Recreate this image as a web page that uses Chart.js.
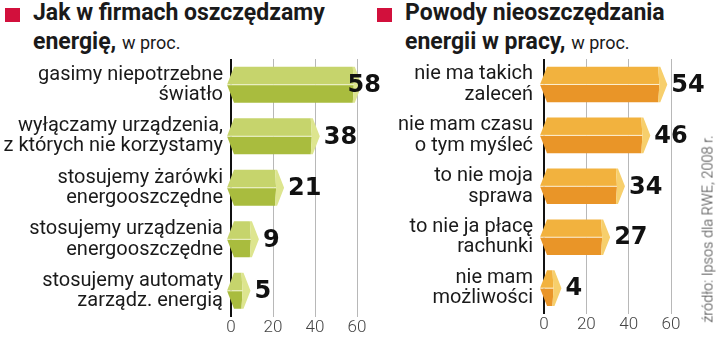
<!DOCTYPE html>
<html>
<head>
<meta charset="utf-8">
<script src="https://cdn.jsdelivr.net/npm/chart.js@4"></script>
<style>
  body { margin: 0; width: 720px; height: 345px; background: #fff; position: relative; overflow: hidden; font-family: Roboto, sans-serif; }
  .sq { position: absolute; width: 15px; height: 14px; background: #d2103c; }
  .title { position: absolute; font-weight: bold; font-size: 23px; line-height: 29px; color: #1a1a1a; white-space: nowrap; }
  .title span { font-weight: normal; font-size: 18px; }
  #wrapL { position: absolute; left: 0; top: 0; width: 382px; height: 345px; }
  #wrapR { position: absolute; left: 360px; top: 0; width: 345px; height: 345px; }
  .src { position: absolute; left: 708px; top: 229px; transform: translate(-50%, -50%) rotate(-90deg); font-size: 14.5px; font-weight: 300; color: #444; white-space: nowrap; }
</style>
</head>
<body>
<div class="sq" style="left:5px; top:8px;"></div>
<div class="title" style="left:33px; top:-2px;">Jak w firmach oszczędzamy<br>energię, <span>w proc.</span></div>
<div class="sq" style="left:377px; top:8px;"></div>
<div class="title" style="left:405px; top:-2px;">Powody nieoszczędzania<br>energii w pracy, <span>w proc.</span></div>
<div id="wrapL"><canvas id="chartL"></canvas></div>
<div id="wrapR"><canvas id="chartR"></canvas></div>
<div class="src">źródło: Ipsos dla RWE, 2008 r.</div>
<script>
// Data
const savingLabels = [
  ['gasimy niepotrzebne', 'światło'],
  ['wyłączamy urządzenia,', 'z których nie korzystamy'],
  ['stosujemy żarówki', 'energooszczędne'],
  ['stosujemy urządzenia', 'energooszczędne'],
  ['stosujemy automaty', 'zarządz. energią']
];
const savingValues = [58, 38, 21, 9, 5];

const reasonLabels = [
  ['nie ma takich', 'zaleceń'],
  ['nie mam czasu', 'o tym myśleć'],
  ['to nie moja', 'sprawa'],
  ['to nie ja płacę', 'rachunki'],
  ['nie mam', 'możliwości']
];
const reasonValues = [54, 46, 34, 27, 4];

const axisTicks = [0, 20, 40, 60];

const green = { top: '#c6d46c', bottom: '#a9bc3e', cap: '#dde58f' };
const orange = { top: '#f2b23e', bottom: '#e99528', cap: '#f7cf6c' };

// draws the prism-like bars and the value labels
const prismBars = {
  id: 'prismBars',
  afterDatasetsDraw(chart, args, opts) {
    const ctx = chart.ctx;
    const meta = chart.getDatasetMeta(0);
    const values = chart.data.datasets[0].data;
    ctx.save();
    meta.data.forEach((el, i) => {
      const p = el.getProps(['x', 'y', 'base', 'height'], true);
      const top = p.y - p.height / 2;
      const bot = p.y + p.height / 2;
      const mid = p.y;
      const b = p.base;
      const xv = p.x;

      // upper face
      ctx.fillStyle = opts.colors.top;
      ctx.beginPath();
      ctx.moveTo(b + 2, top);
      ctx.lineTo(xv, top);
      ctx.lineTo(xv + 1, mid);
      ctx.lineTo(b - 5, mid);
      ctx.closePath();
      ctx.fill();

      // lower face
      ctx.fillStyle = opts.colors.bottom;
      ctx.beginPath();
      ctx.moveTo(b - 5, mid);
      ctx.lineTo(xv + 1, mid);
      ctx.lineTo(xv, bot);
      ctx.lineTo(b + 2, bot);
      ctx.closePath();
      ctx.fill();

      // end cap
      ctx.fillStyle = opts.colors.cap;
      ctx.beginPath();
      ctx.moveTo(xv, top);
      ctx.lineTo(xv + 2, top);
      ctx.lineTo(xv + 9, mid);
      ctx.lineTo(xv + 2, bot);
      ctx.lineTo(xv, bot);
      ctx.lineTo(xv + 1, mid);
      ctx.closePath();
      ctx.fill();

      // thin light line between the faces
      ctx.strokeStyle = 'rgba(255,255,240,0.8)';
      ctx.lineWidth = 1;
      ctx.beginPath();
      ctx.moveTo(b - 5, mid);
      ctx.lineTo(xv + 1, mid);
      ctx.stroke();

      // value label
      ctx.font = 'bold 24px "DejaVu Sans", sans-serif';
      ctx.fillStyle = '#111';
      ctx.textBaseline = 'middle';
      ctx.textAlign = 'left';
      const txt = String(values[i]);
      const w = ctx.measureText(txt).width;
      const lx = Math.min(xv + 13, opts.maxRight - w);
      ctx.fillText(txt, lx, mid + 1);
    });
    ctx.restore();
  }
};

function makeChart(id, labels, values, colors, axisWidth, padRight, maxRight, labelPad) {
  return new Chart(document.getElementById(id), {
    type: 'bar',
    data: {
      labels: labels,
      datasets: [{
        data: values,
        backgroundColor: 'rgba(0,0,0,0)',
        borderWidth: 0,
        barPercentage: 0.7,
        categoryPercentage: 1
      }]
    },
    options: {
      indexAxis: 'y',
      responsive: true,
      maintainAspectRatio: false,
      animation: false,
      layout: { padding: { top: 59, right: padRight, left: 0, bottom: 0 } },
      plugins: {
        legend: { display: false },
        tooltip: { enabled: false },
        prismBars: { colors: colors, maxRight: maxRight }
      },
      scales: {
        x: {
          min: 0,
          max: 60,
          afterBuildTicks: (scale) => { scale.ticks = axisTicks.map(v => ({ value: v })); },
          afterFit: (scale) => { scale.height = 17; },
          border: { display: false },
          grid: {
            drawTicks: false,
            color: (c) => c.tick && c.tick.value === 0 ? '#111' : '#b8b8b8',
            lineWidth: (c) => c.tick && c.tick.value === 0 ? 2 : 1
          },
          ticks: {
            padding: 1,
            color: '#444',
            font: { family: 'Roboto', size: 17, weight: '300' }
          }
        },
        y: {
          afterFit: (scale) => { scale.width = axisWidth; },
          border: { display: false },
          grid: { display: false, drawTicks: false },
          ticks: {
            padding: labelPad,
            color: '#1a1a1a',
            font: { family: 'Roboto', size: 20, lineHeight: 1.02 }
          }
        }
      }
    },
    plugins: [prismBars]
  });
}

makeChart('chartL', savingLabels, savingValues, green, 231, 25, 381, 8);
makeChart('chartR', reasonLabels, reasonValues, orange, 184, 34, 700, 11);
</script>
</body>
</html>
